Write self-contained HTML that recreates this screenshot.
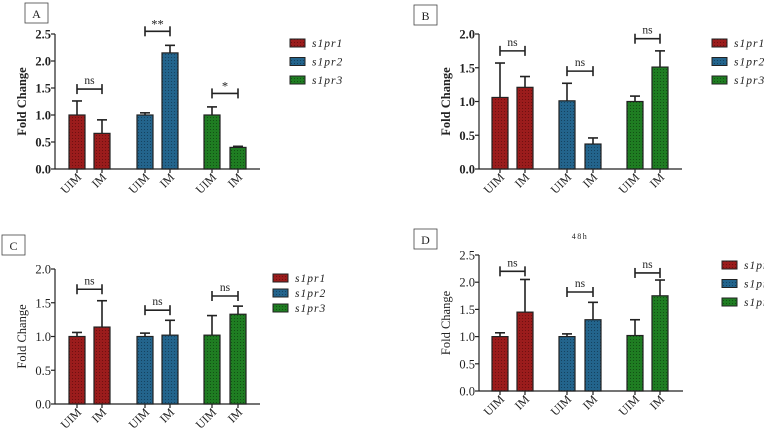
<!DOCTYPE html>
<html><head><meta charset="utf-8"><style>
body{margin:0;background:#fff;}
svg{display:block;font-family:"Liberation Serif",serif;}
</style></head><body>
<svg id="fig" width="764" height="433" viewBox="0 0 764 433">
<defs>
<pattern id="pr" width="3" height="3" patternUnits="userSpaceOnUse"><rect width="3" height="3" fill="#9b1c1c"/><rect width="1" height="1" fill="#6e1010"/></pattern>
<pattern id="pb" width="3" height="3" patternUnits="userSpaceOnUse"><rect width="3" height="3" fill="#23648c"/><rect width="1" height="1" fill="#15425f"/></pattern>
<pattern id="pg" width="3" height="3" patternUnits="userSpaceOnUse"><rect width="3" height="3" fill="#1f7d22"/><rect width="1" height="1" fill="#125014"/></pattern>
</defs>
</svg>
<script>
const categories = ["UIM","IM","UIM","IM","UIM","IM"];
const seriesNames = ["s1pr1","s1pr2","s1pr3"];
const valuesA = [1.0,0.66,1.0,2.15,1.0,0.4];
const errorsA = [0.26,0.25,0.04,0.14,0.15,0.02];
const sigA = ["ns","**","*"];
const sigLevelA = [1.48,2.55,1.4];
const ticksA = [0,0.5,1,1.5,2,2.5];
const tickLabelsA = ["0.0","0.5","1.0","1.5","2.0","2.5"];
const valuesB = [1.06,1.21,1.01,0.37,1.0,1.51];
const errorsB = [0.51,0.16,0.26,0.09,0.08,0.24];
const sigB = ["ns","ns","ns"];
const sigLevelB = [1.75,1.45,1.93];
const ticksB = [0,0.5,1,1.5,2];
const tickLabelsB = ["0.0","0.5","1.0","1.5","2.0"];
const valuesC = [1.0,1.14,1.0,1.02,1.02,1.33];
const errorsC = [0.06,0.39,0.05,0.22,0.29,0.12];
const sigC = ["ns","ns","ns"];
const sigLevelC = [1.70,1.39,1.60];
const ticksC = [0,0.5,1,1.5,2];
const tickLabelsC = ["0.0","0.5","1.0","1.5","2.0"];
const valuesD = [1.0,1.45,1.0,1.31,1.02,1.75];
const errorsD = [0.07,0.6,0.05,0.32,0.29,0.29];
const sigD = ["ns","ns","ns"];
const sigLevelD = [2.2,1.82,2.17];
const ticksD = [0,0.5,1,1.5,2,2.5];
const tickLabelsD = ["0.0","0.5","1.0","1.5","2.0","2.5"];

const NS="http://www.w3.org/2000/svg";
const svg=document.getElementById('fig');
function mk(tag,attrs,parent,text){const e=document.createElementNS(NS,tag);for(const k in attrs)e.setAttribute(k,attrs[k]);if(text!==undefined)e.textContent=text;(parent||svg).appendChild(e);return e;}
const fills=["url(#pr)","url(#pb)","url(#pg)"];

function panel(cfg){
  const g=mk('g',{});
  
  
  const y=v=>cfg.y0-(v/cfg.ymax)*(cfg.y0-cfg.ytop);
  const x=i=>cfg.x0+cfg.off[i];
  const fw=cfg.bold?'bold':'normal';
  const bx=mk('g',{},g);
  
  
  mk('rect',{x:cfg.box[0],y:cfg.box[1],width:23,height:20,fill:'#fff',stroke:'#444','stroke-width':0.8},bx);
  mk('text',{x:cfg.box[0]+11.5,y:cfg.box[1]+15,'font-size':12,'text-anchor':'middle',fill:'#222'},bx,cfg.id);
  const yax=mk('line',{x1:cfg.x0,y1:cfg.ytop,x2:cfg.x0,y2:cfg.y0,stroke:'#222','stroke-width':1.2},g);
  
  
  const xax=mk('line',{x1:cfg.x0,y1:cfg.y0,x2:cfg.xend,y2:cfg.y0,stroke:'#222','stroke-width':1.2},g);
  
  
  cfg.ticks.forEach((t,i)=>{
    mk('line',{x1:cfg.x0-4,y1:y(t),x2:cfg.x0,y2:y(t),stroke:'#222','stroke-width':1.2},g);
    const tl=mk('text',{x:cfg.x0-4,y:y(t)+4.5,'font-size':12.5,'font-weight':fw,'text-anchor':'end',fill:'#222'},g,cfg.tickLabels[i]);
    
    
  });
  const yt=mk('text',{x:0,y:0,'font-size':12.5,'font-weight':fw,'text-anchor':'middle',fill:'#222',transform:`translate(${cfg.x0-29},${(cfg.y0+cfg.ytop)/2}) rotate(-90)`},g,'Fold Change');
  
  
  cfg.values.forEach((v,i)=>{
    const cx=x(i);
    const top=y(v), etop=y(v+cfg.errors[i]);
    const eb=mk('g',{},g);
    
    
    mk('line',{x1:cx,y1:top,x2:cx,y2:etop,stroke:'#222','stroke-width':1.6},eb);
    mk('line',{x1:cx-5,y1:etop,x2:cx+5,y2:etop,stroke:'#222','stroke-width':1.6},eb);
    const b=mk('rect',{x:cx-8,y:top,width:16,height:cfg.y0-top,fill:fills[Math.floor(i/2)],stroke:'#222','stroke-width':1.2},g);
    
    
    mk('line',{x1:cx,y1:cfg.y0,x2:cx,y2:cfg.y0+4,stroke:'#222','stroke-width':1.2},g);
    const xl=mk('text',{x:0,y:0,'font-size':12,'text-anchor':'end',fill:'#222',transform:`translate(${cx+5},${cfg.y0+9}) rotate(-45)`},g,categories[i]);
    
    
  });
  cfg.sig.forEach((s,k)=>{
    const a=x(2*k),b=x(2*k+1),yy=y(cfg.sigLevel[k]);
    const br=mk('g',{},g);
    
    
    mk('line',{x1:a,y1:yy,x2:b,y2:yy,stroke:'#222','stroke-width':1.6},br);
    mk('line',{x1:a,y1:yy-5,x2:a,y2:yy+5,stroke:'#222','stroke-width':1.6},br);
    mk('line',{x1:b,y1:yy-5,x2:b,y2:yy+5,stroke:'#222','stroke-width':1.6},br);
    mk('text',{x:(a+b)/2,y:s==='ns'?yy-5:yy-3,'font-size':s==='ns'?11.5:12.5,'text-anchor':'middle',fill:'#222'},br,s);
  });
  seriesNames.forEach((n,k)=>{
    const le=mk('g',{},g);
    
    
    const ly=cfg.leg[1]+k*cfg.legStep;
    mk('rect',{x:cfg.leg[0],y:ly-4,width:15,height:8,fill:fills[k],stroke:'#222','stroke-width':1},le);
    mk('text',{x:cfg.leg[0]+22,y:ly+4,'font-size':11.5,'font-style':'italic','letter-spacing':'1',fill:'#222'},le,n);
  });
  if(cfg.title){
    const t=mk('text',{x:cfg.title[0],y:cfg.title[1],'font-size':8,'text-anchor':'middle','letter-spacing':'1.5',fill:'#222'},g,'48h');
    
    
  }
}
const offL=[22,47,90,115,157,183];
const offR=[21,46,88,114,156,181];
panel({id:'A',x0:55,xend:260,y0:169,ytop:34,ymax:2.5,off:offL,bold:true,values:valuesA,errors:errorsA,sig:sigA,sigLevel:sigLevelA,ticks:ticksA,tickLabels:tickLabelsA,box:[25,3],leg:[290,43],legStep:18.5});
panel({id:'B',x0:479,xend:682,y0:169,ytop:34,ymax:2.0,off:offR,bold:true,values:valuesB,errors:errorsB,sig:sigB,sigLevel:sigLevelB,ticks:ticksB,tickLabels:tickLabelsB,box:[414,5],leg:[712,43],legStep:18.5});
panel({id:'C',x0:55,xend:260,y0:404,ytop:269,ymax:2.0,off:offL,bold:false,values:valuesC,errors:errorsC,sig:sigC,sigLevel:sigLevelC,ticks:ticksC,tickLabels:tickLabelsC,box:[2,235],leg:[273,278],legStep:15});
panel({id:'D',x0:479,xend:683,y0:391,ytop:255,ymax:2.5,off:offR,bold:false,values:valuesD,errors:errorsD,sig:sigD,sigLevel:sigLevelD,ticks:ticksD,tickLabels:tickLabelsD,box:[414,229],leg:[722,265],legStep:18.5,title:[580,239]});
</script>
</body></html>
